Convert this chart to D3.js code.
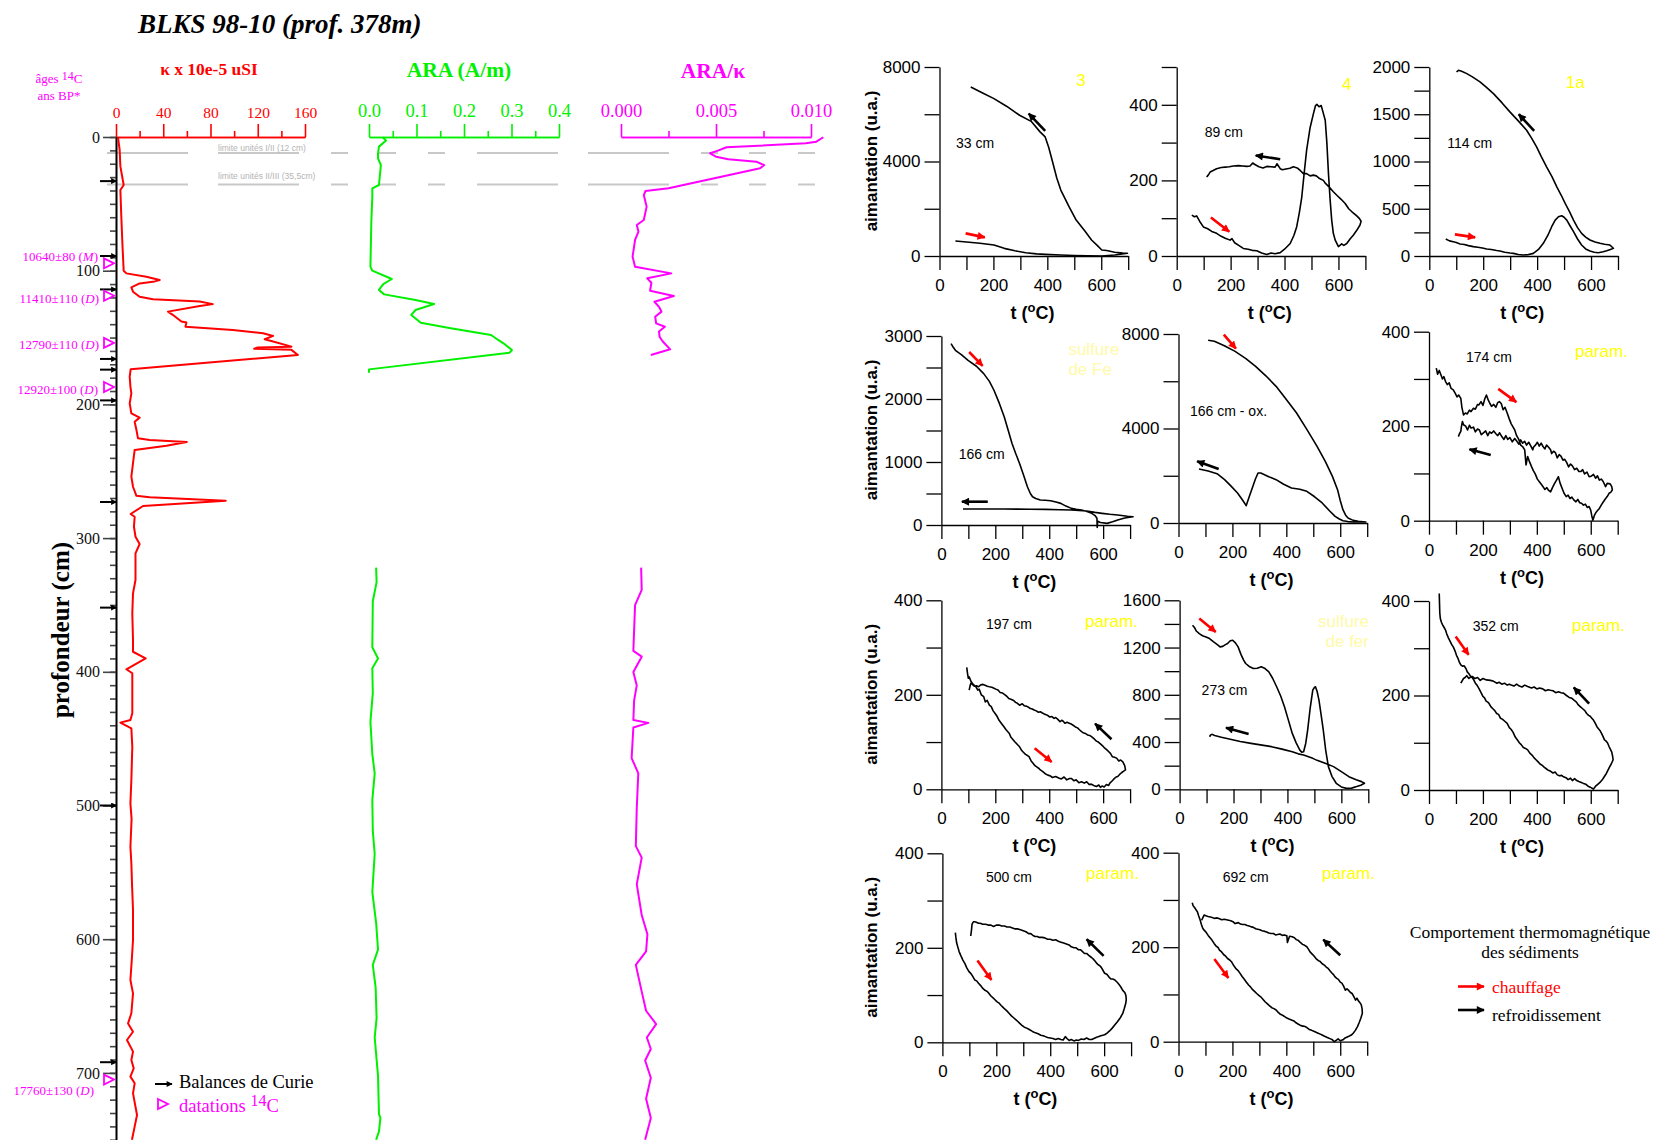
<!DOCTYPE html>
<html><head><meta charset="utf-8">
<script src="https://cdn.jsdelivr.net/npm/d3@7"></script>
<style>body{margin:0;background:#fff}svg{display:block}</style>
</head><body>
<svg id="c" width="1655" height="1140"></svg>
<script>
// ================= DATA =================
// Depth logs: [depth cm, value]; null = no measurement
const kappaProfile = [[0.5,1.7],[9.7,3.1],[22,3.7],[35.9,6.5],[39.6,3.7],[59.6,4.5],[79.5,5.4],[100,6.5],[102,8.8],[104.5,25.7],[107,37],[108,32.8],[109.5,20],[112.5,13],[115.7,14.4],[119.5,20],[121.4,31.3],[123,70.9],[125,82],[126.4,70.9],[130.6,44],[133,48],[138,55.4],[138.8,59.6],[141.9,58.8],[144.4,99],[146.8,124.5],[148.8,133],[151.3,125.9],[153,133],[156.8,148.5],[157.4,120],[158.4,117],[159.2,148.5],[163,154],[173.8,12.4],[179.3,11.6],[186.7,12.2],[191.7,13],[199.2,11.6],[206.7,13],[209.9,20],[213,15.8],[219.1,17.3],[225.4,18.6],[226.6,28.5],[228.1,60],[231,42.7],[234.1,15.8],[244,14.4],[254,13],[261.6,14.4],[268.3,17.2],[269.5,28.5],[272,92.9],[276,22.9],[282,12.4],[284,15.8],[291.5,15.2],[299,16.5],[304.4,20],[311.4,16.5],[331.3,16.5],[341.3,14.4],[356.3,13.8],[376.2,14.4],[385,14.4],[390,25.1],[398.1,8.8],[401.1,13.8],[431,13.8],[436,12.2],[438,3.7],[442.3,13],[456,13.8],[481,13],[498.4,12.2],[510,13.2],[530.8,12.2],[543.2,13],[560,13.6],[578.2,14.4],[600.6,14.4],[615,13.4],[630.5,12.2],[640.5,14.4],[655.4,13],[663,10.2],[669.2,14.4],[675.4,9.3],[684.1,14.4],[690.4,13],[696.6,15],[702.8,12.2],[707.8,15.8],[715.3,14.4],[731.5,17.8],[740.2,15.8],[750,13.5]];

const araProfile = [[0.2,0.029],[2.7,0.036],[7.2,0.021],[12.2,0.019],[16,0.019],[21,0.025],[35.9,0.021],[38.4,0.007],[44.6,0.007],[62,0.005],[97,0.003],[100,0.007],[106.2,0.048],[110,0.03],[114.4,0.021],[117.7,0.032],[121.9,0.098],[124.9,0.137],[129.4,0.098],[133.1,0.089],[138.9,0.109],[143.1,0.172],[148.1,0.257],[151.8,0.272],[154.3,0.283],[159.3,0.301],[161.3,0.296],[173.8,0.0],[176.3,0.0],[250,null],
[322.1,0.015],[332.9,0.016],[347.2,0.008],[381.6,0.007],[390.1,0.019],[397.3,0.007],[415.9,0.008],[437.4,0.003],[461.7,0.007],[476,0.012],[496,0.007],[519,0.008],[536.1,0.012],[564.8,0.007],[587.7,0.015],[607.7,0.019],[619.2,0.008],[636.3,0.014],[659.2,0.016],[673.5,0.012],[702.2,0.019],[730.8,0.021],[733.7,0.024],[743.7,0.021],[750,0.015]];

const ratioProfile = [[0.2,0.01065],[3.5,0.01028],[4.7,0.00973],[7.7,0.00556],[10.2,0.0051],[12.2,0.00469],[14.7,0.005],[16.7,0.00565],[18.5,0.00713],[21,0.00754],[23.4,0.00732],[29.7,0.00528],[38.4,0.0025],[40.4,0.00129],[43.4,0.0012],[52.1,0.00135],[62.1,0.0012],[65.8,0.00083],[70.8,0.00092],[77,0.00074],[89.5,0.00061],[97,0.00074],[102,0.00265],[105.7,0.00138],[109,0.0016],[115,0.00153],[118.9,0.00278],[123.2,0.00176],[127,0.002],[130.6,0.00213],[134.5,0.0018],[139.4,0.00185],[141.9,0.00231],[145.5,0.002],[149.4,0.00203],[153,0.0022],[158.8,0.00259],[163.1,0.00157],[250,null],
[322.1,0.00106],[338.7,0.00109],[350.1,0.00074],[384.4,0.00065],[388.7,0.00109],[400.1,0.00065],[410.2,0.00083],[421.6,0.00069],[436,0.00065],[438.2,0.00144],[441.7,0.00065],[464.5,0.00056],[476,0.00091],[501.8,0.00083],[530.4,0.00078],[539,0.00109],[559,0.00083],[581.9,0.00109],[596.3,0.00139],[609.1,0.00132],[619.2,0.00078],[639.2,0.00109],[653.5,0.00132],[663.5,0.00185],[673.5,0.00136],[682.1,0.00157],[690.7,0.00127],[703.6,0.00157],[719.3,0.00132],[733.7,0.00157],[750,0.00127]];

const kappaTicks = [0,40,80,120,160], kappaMinor = [20,60,100,140];
const araTicks = [0,0.1,0.2,0.3,0.4], araMinor = [0.05,0.15,0.25,0.35];
const ratioTicks = [0,0.005,0.01], ratioMinor = [0.0025,0.0075];
const depthTicks = [0,100,200,300,400,500,600,700];

const unitLimits = [12, 35.5];
const unitLimitLabels = ["limite unités I/II (12 cm)", "limite unités II/III (35,5cm)"];

const curieDepths = [33, 89, 114, 166, 174, 197, 273, 352, 500, 692];
const datingDepths = [94.5, 118.7, 154, 187, 705];
const datingAges = ["10640±80", "11410±110", "12790±110", "12920±100", "17760±130"];
const datingMethods = ["M", "D", "D", "D", "D"];

// Thermomagnetic curves: [t °C, aimantation u.a.] heating then cooling
const curve33 = [[59,634],[100,590],[150,540],[202,465],[240,324],[280,220],[320,140],[360,90],[392,70],[450,40],[500,20],[550,10],[602,0],[650,40],[697,113],[680,120],[650,160],[620,230],[602,253],[585,450],[564,676],[540,1050],[507,1521],[480,2100],[450,2789],[435,3300],[421,3915],[405,4600],[392,5042],[373,5254],[340,5700],[297,5958],[250,6330],[202,6662],[160,6900],[116,7155]];
const curve89 = [[56,108],[66,104],[74,106],[85,92],[99,77],[115,72],[130,65],[148,60],[165,52],[180,47],[198,42],[205,46],[215,35],[230,28],[247,20],[265,18],[280,15],[297,14],[315,8],[334,4],[350,8],[365,6],[384,9],[400,18],[421,33],[435,55],[445,77],[455,115],[464,156],[473,220],[482,280],[495,340],[507,376],[515,398],[520,401],[528,395],[536,398],[543,380],[551,359],[557,300],[563,218],[569,150],[575,95],[581,60],[588,42],[600,25],[612,32],[620,28],[631,33],[643,45],[655,55],[668,68],[680,82],[684,92],[678,99],[668,106],[650,117],[638,125],[625,139],[610,150],[595,160],[581,170],[565,183],[552,192],[544,200],[530,205],[518,212],[507,214],[495,212],[482,218],[470,218],[460,225],[447,233],[433,236],[420,232],[405,230],[392,228],[384,231],[372,244],[365,235],[350,236],[334,237],[320,233],[305,236],[290,242],[282,246],[272,238],[260,237],[245,238],[230,239],[210,238],[195,236],[180,235],[165,234],[148,231],[135,226],[124,222],[117,214],[111,209]];
const curve114 = [[61,180],[75,160],[89,151],[100,142],[114,127],[130,122],[145,110],[163,99],[180,92],[197,85],[213,74],[230,68],[250,58],[262,53],[280,40],[300,32],[312,28],[330,16],[349,11],[365,14],[386,28],[405,70],[423,134],[440,220],[454,310],[467,380],[479,415],[491,426],[500,410],[510,380],[522,320],[535,257],[550,180],[565,116],[580,75],[596,53],[612,40],[627,35],[645,45],[658,56],[672,70],[683,81],[678,95],[670,116],[650,125],[633,134],[615,148],[596,169],[580,200],[565,239],[550,300],[535,380],[520,470],[504,556],[490,640],[473,732],[455,840],[435,944],[415,1055],[398,1155],[380,1245],[361,1331],[330,1430],[299,1525],[270,1620],[238,1718],[210,1790],[188,1842],[160,1895],[139,1930],[120,1955],[108,1965],[101,1947]];
const curve166 = [[36,2879],[44,2820],[52,2773],[75,2700],[99,2614],[130,2520],[157,2403],[178,2280],[195,2139],[215,1930],[233,1717],[248,1500],[262,1294],[276,1130],[290,977],[305,790],[319,607],[330,500],[338,449],[350,420],[367,396],[385,392],[405,386],[425,365],[443,343],[462,300],[482,264],[500,250],[520,238],[540,215],[558,185],[570,150],[577,106],[578,-40],[580,60],[590,40],[615,26],[635,50],[654,79],[680,110],[711,132],[690,140],[654,158],[625,170],[596,185],[570,200],[539,222],[510,230],[482,238],[440,243],[386,248],[330,250],[280,252],[233,254],[180,255],[130,253],[80,254]];
const curve166ox = [[110,7732],[133,7690],[170,7500],[210,7266],[250,6960],[286,6631],[325,6220],[362,5785],[400,5230],[438,4656],[476,3960],[514,3245],[545,2600],[571,1975],[590,1411],[600,950],[610,564],[620,330],[629,212],[648,110],[667,71],[695,42],[670,42],[648,42],[628,60],[610,99],[595,180],[581,282],[560,520],[533,847],[505,1110],[476,1340],[450,1430],[419,1481],[390,1640],[362,1834],[335,1960],[305,2116],[295,2116],[285,1850],[276,1552],[262,1100],[251,734],[240,930],[219,1270],[195,1560],[171,1834],[143,2088],[110,2200],[76,2286]];
const curve174 = [[27,323],[32,310],[38,318],[42,312],[50,300],[55,305],[61,295],[68,288],[75,292],[82,280],[90,277],[97,270],[104,262],[110,266],[118,259],[122,240],[128,224],[135,228],[142,226],[150,234],[156,231],[165,238],[172,236],[180,246],[185,245],[193,252],[200,244],[207,258],[213,266],[220,255],[226,248],[232,242],[240,246],[248,240],[255,250],[261,252],[268,248],[275,235],[282,240],[290,228],[298,215],[305,205],[312,198],[318,192],[325,180],[333,172],[340,160],[347,157],[355,150],[360,118],[366,136],[372,126],[380,115],[387,106],[394,99],[402,88],[410,82],[418,76],[423,72],[430,66],[437,70],[444,64],[451,61],[458,70],[465,78],[472,85],[480,93],[486,80],[494,68],[501,58],[509,51],[516,54],[523,47],[530,50],[537,44],[545,40],[552,45],[559,38],[566,37],[573,33],[580,35],[587,28],[594,30],[600,22],[604,10],[608,1],[614,12],[620,18],[626,22],[632,26],[640,34],[647,40],[654,46],[661,51],[668,58],[674,60],[680,65],[678,72],[672,78],[661,79],[655,72],[646,83],[639,88],[632,86],[625,95],[618,90],[610,98],[601,94],[594,93],[586,103],[577,99],[570,108],[563,104],[556,104],[548,111],[540,108],[532,116],[525,120],[518,114],[510,124],[503,130],[497,128],[490,136],[483,140],[476,133],[469,144],[462,147],[455,142],[451,150],[443,156],[436,160],[430,152],[423,157],[416,164],[409,158],[402,166],[395,160],[388,156],[385,150],[378,158],[370,166],[362,160],[355,168],[347,164],[340,171],[333,162],[326,168],[318,174],[309,167],[300,176],[292,172],[285,180],[278,172],[270,178],[262,186],[255,180],[248,184],[240,190],[232,185],[225,188],[218,180],[210,190],[202,186],[194,182],[187,192],[180,194],[172,188],[165,198],[156,196],[150,202],[143,192],[136,200],[128,203],[124,210],[120,198],[118,189],[113,184],[109,178]];
const curve197 = [[94,258],[97,245],[100,235],[103,238],[110,228],[118,222],[128,217],[135,210],[140,212],[148,200],[157,196],[163,185],[170,188],[178,178],[185,175],[192,166],[200,160],[207,154],[214,146],[222,140],[230,134],[240,126],[252,118],[258,110],[266,105],[273,100],[280,96],[290,90],[298,82],[305,78],[312,74],[318,72],[325,69],[333,60],[340,55],[347,50],[355,47],[362,44],[367,41],[375,38],[385,33],[395,30],[405,28],[412,25],[424,27],[435,24],[445,22],[455,26],[465,20],[475,23],[482,23],[492,18],[500,20],[510,14],[520,16],[530,13],[539,16],[548,10],[556,11],[565,8],[575,6],[584,9],[590,4],[596,7],[604,5],[612,10],[620,8],[625,13],[634,18],[640,22],[648,26],[654,27],[662,32],[668,35],[675,38],[683,41],[680,50],[673,58],[665,62],[658,60],[650,66],[642,68],[634,69],[627,76],[620,80],[613,84],[606,87],[598,92],[590,96],[582,100],[575,102],[568,106],[558,111],[550,114],[542,115],[535,118],[528,119],[520,122],[512,126],[505,130],[497,132],[490,135],[482,138],[474,140],[466,142],[458,140],[452,144],[446,146],[440,143],[432,148],[424,152],[418,150],[410,154],[402,153],[395,156],[388,158],[380,160],[373,162],[367,164],[360,163],[352,166],[344,168],[337,170],[330,171],[322,174],[315,176],[307,177],[300,181],[290,178],[282,182],[275,184],[268,188],[260,190],[250,192],[244,196],[236,200],[226,204],[218,205],[210,210],[202,212],[195,214],[187,216],[178,217],[170,218],[162,220],[154,222],[146,221],[138,217],[130,219],[122,218],[115,222],[109,224],[106,218],[103,210]];
const curve273 = [[48,1389],[55,1370],[62,1340],[73,1318],[85,1300],[98,1290],[111,1276],[125,1250],[140,1225],[150,1206],[160,1210],[170,1225],[178,1234],[188,1258],[197,1262],[207,1240],[217,1206],[228,1140],[237,1095],[245,1065],[258,1040],[274,1023],[288,1025],[303,1037],[315,1025],[331,994],[345,940],[360,868],[375,790],[389,699],[403,590],[418,473],[432,395],[446,332],[453,315],[460,318],[468,390],[475,501],[484,680],[494,839],[500,862],[504,868],[510,830],[517,755],[525,630],[533,501],[542,330],[552,192],[565,110],[581,51],[600,20],[619,8],[638,10],[657,23],[672,35],[686,51],[675,65],[655,80],[628,107],[600,150],[571,192],[540,220],[510,245],[494,262],[460,290],[440,300],[418,318],[380,340],[341,361],[300,376],[265,389],[225,405],[188,423],[155,440],[130,455],[121,465],[115,460],[111,445]];
const curve352 = [[38,416],[39,395],[40,375],[42,363],[46,355],[50,350],[55,345],[61,339],[66,330],[72,322],[78,315],[84,308],[90,303],[96,295],[102,285],[108,278],[113,270],[118,265],[124,262],[130,263],[137,257],[142,250],[148,246],[155,240],[160,238],[166,233],[172,226],[178,222],[185,215],[194,205],[200,198],[206,195],[212,188],[218,186],[223,183],[230,176],[237,172],[244,168],[251,162],[258,160],[265,152],[272,150],[280,146],[290,141],[298,132],[305,128],[312,122],[320,112],[328,106],[335,100],[342,96],[350,90],[358,88],[366,85],[374,78],[382,74],[390,68],[397,64],[404,60],[412,55],[420,52],[428,48],[435,45],[442,42],[450,40],[460,36],[468,38],[476,32],[484,30],[492,31],[499,28],[508,26],[516,22],[525,25],[532,20],[540,24],[548,20],[556,18],[565,16],[573,14],[582,12],[590,8],[598,6],[604,4],[610,2],[618,8],[626,12],[634,16],[642,21],[650,28],[658,35],[664,42],[670,49],[676,55],[683,64],[681,72],[678,80],[674,85],[668,92],[662,100],[656,104],[651,106],[645,114],[640,120],[634,126],[628,130],[623,134],[616,142],[610,148],[604,152],[598,156],[592,158],[585,162],[578,168],[570,172],[562,176],[554,180],[547,186],[538,190],[530,194],[520,196],[510,200],[499,205],[490,206],[480,208],[470,206],[460,210],[450,211],[442,212],[432,210],[422,214],[410,216],[400,214],[390,218],[380,216],[366,219],[355,222],[345,218],[335,220],[325,224],[315,220],[305,222],[298,224],[290,222],[280,226],[270,224],[260,228],[252,226],[240,230],[228,232],[213,233],[200,236],[190,232],[180,238],[170,236],[162,240],[156,240],[148,236],[140,242],[134,238],[128,236],[124,232],[120,228],[118,226]];
const curve500 = [[48,232],[50,222],[53,210],[57,202],[62,192],[68,184],[76,174],[84,166],[90,158],[98,150],[105,146],[112,140],[120,132],[127,130],[134,125],[142,120],[150,114],[158,110],[165,108],[172,104],[180,98],[188,94],[195,90],[202,86],[210,83],[218,78],[225,74],[232,70],[240,66],[248,61],[256,56],[264,52],[272,48],[280,44],[287,40],[295,36],[304,32],[313,30],[322,27],[334,23],[345,20],[355,18],[365,15],[374,14],[382,12],[390,10],[400,9],[410,8],[420,6],[430,8],[439,6],[448,5],[456,12],[462,8],[470,4],[478,6],[488,3],[497,5],[505,4],[515,7],[525,6],[535,9],[545,6],[554,6],[562,8],[570,10],[578,12],[588,14],[602,16],[612,20],[620,24],[630,30],[640,37],[650,44],[660,52],[669,61],[675,72],[680,82],[682,90],[681,98],[678,104],[674,107],[669,110],[663,116],[656,122],[650,126],[640,132],[632,134],[625,134],[618,138],[610,144],[602,146],[596,152],[590,158],[584,162],[578,164],[573,167],[566,172],[560,176],[552,180],[543,184],[535,188],[527,188],[520,192],[512,196],[504,196],[496,200],[488,200],[478,202],[470,206],[460,208],[450,210],[440,212],[430,214],[420,217],[410,216],[400,218],[390,218],[380,221],[370,222],[360,222],[352,224],[344,224],[336,226],[328,230],[320,230],[310,234],[300,236],[290,238],[280,240],[270,240],[260,242],[250,244],[240,244],[230,246],[220,246],[210,248],[200,248],[190,245],[180,248],[170,248],[160,250],[150,250],[140,252],[134,252],[126,254],[120,255],[115,255],[110,250],[108,238],[105,225]];
const curve692 = [[51,294],[54,288],[58,285],[62,282],[66,278],[70,275],[75,266],[80,258],[85,248],[90,240],[95,236],[102,232],[110,225],[117,220],[124,215],[132,208],[140,202],[146,200],[152,194],[160,190],[168,184],[175,181],[182,176],[190,173],[198,168],[206,160],[214,154],[222,150],[229,144],[236,138],[244,132],[252,126],[260,120],[267,116],[275,110],[283,106],[290,102],[298,98],[305,95],[313,90],[322,84],[330,80],[338,76],[346,72],[354,70],[362,67],[370,62],[378,58],[386,56],[394,53],[402,50],[410,48],[419,46],[428,44],[436,40],[445,37],[454,34],[462,33],[470,32],[476,30],[485,26],[494,24],[502,22],[510,20],[518,18],[526,16],[533,14],[540,12],[548,10],[556,8],[564,6],[571,4],[578,0],[585,3],[592,6],[600,2],[610,4],[618,8],[626,10],[634,12],[641,14],[648,18],[656,24],[664,32],[670,40],[676,49],[682,60],[681,70],[678,78],[674,82],[668,86],[662,92],[657,88],[650,96],[644,102],[638,104],[632,108],[625,112],[619,109],[612,118],[606,124],[600,126],[593,132],[587,134],[581,137],[575,142],[568,146],[562,150],[555,155],[548,158],[541,162],[533,165],[525,170],[518,172],[510,176],[502,182],[495,186],[488,190],[482,196],[476,201],[468,204],[460,206],[452,210],[445,214],[437,216],[430,220],[422,222],[412,223],[404,210],[402,224],[392,226],[385,225],[376,228],[368,227],[360,226],[352,229],[343,229],[335,230],[327,232],[318,234],[310,235],[302,237],[294,238],[286,239],[278,242],[270,243],[262,245],[255,246],[246,248],[238,248],[230,249],[222,252],[210,250],[202,254],[194,256],[186,257],[178,258],[170,259],[160,258],[152,260],[144,262],[133,261],[125,263],[118,264],[110,265],[104,266],[95,268],[90,262],[86,257]];

const panelCurves = [curve33, curve89, curve114, curve166, curve166ox, curve174, curve197, curve273, curve352, curve500, curve692];
const panelSamples = ["33 cm","89 cm","114 cm","166 cm","166 cm - ox.","174 cm","197 cm","273 cm","352 cm","500 cm","692 cm"];
const panelTags = [["3"],["4"],["1a"],["sulfure","de Fe"],[],["param."],["param."],["sulfure","de fer"],["param."],["param."],["param."]];
const panelYMax = [8000,500,2000,3000,8000,400,400,1600,400,400,400];
const panelYStep = [2000,100,250,500,2000,100,100,200,100,100,100];
const panelYLabelStep = [4000,200,500,1000,4000,200,200,400,200,200,200];
// arrows: [kind, t1, M1, t2, M2]
const panelArrows = [
  [["heat",97,958,168,789],["cool",392,5296,331,6028]],
  [["heat",127,102,195,64],["cool",384,256,293,266]],
  [["heat",95,229,170,197],["cool",389,1324,332,1500]],
  [["heat",103,2746,153,2525],["cool",172,370,76,370]],
  [["heat",168,7972,213,7379],["cool",149,2286,69,2610]],
  [["heat",257,279,324,251],["cool",229,139,150,151]],
  [["heat",346,87,409,58],["cool",631,106,570,139]],
  [["heat",73,1445,134,1332],["cool",256,468,172,521]],
  [["heat",99,325,147,286],["cool",594,183,537,217]],
  [["heat",130,173,182,132],["cool",598,183,535,218]],
  [["heat",133,175,185,135],["cool",600,183,537,216]]
];
const tempTicks = [0,100,200,300,400,500,600,700];

// ================= LAYOUT =================
const SERIF = "'Liberation Serif','Times New Roman',serif";
const SANS = "'Liberation Sans',Arial,sans-serif";
const RED = "#ff0000", GREEN = "#00f000", MAG = "#ff00ff";
const panelOrigin = [[939.5,256],[1176.7,256],[1429.3,256],[941.4,525],[1178.5,523],[1429,520.7],[941.4,789.3],[1179.6,789.3],[1429,790],[942.4,1042.3],[1178.5,1041.7]];
const sampleOffset = [[16.5,-113],[28,-124],[18,-113],[17.4,-71],[11.5,-112],[37,-164],[44.6,-165],[22,-99],[43.7,-164.3],[43.6,-165],[44.2,-165]];
const tagOffset = [[141.5,-176,"middle"],[170,-172,"middle"],[146,-174,"middle"],[127,-176,"start"],[0,0,"start"],[146,-170,"start"],[143.6,-168.6,"start"],[189.4,-168.6,"end"],[143,-165,"start"],[143.6,-169,"start"],[143.5,-169,"start"]];
const limitLabelY = [151, 179];
const datingLabelDy = [-7,3,2,2,11];
const datingLabelX = [98,99,99,98,94];
const PW = 188.7, PH = 189;

const svg = d3.select("#c");
const defs = svg.append("defs");
function marker(id, color, w, h){
  defs.append("marker").attr("id",id).attr("viewBox","0 0 10 10").attr("refX",9).attr("refY",5)
    .attr("markerWidth",w).attr("markerHeight",h).attr("markerUnits","userSpaceOnUse").attr("orient","auto")
    .append("path").attr("d","M0,0L10,5L0,10Z").attr("fill",color);
}
marker("hR", RED, 9, 8); marker("hK", "#000", 9, 8); marker("hS", "#000", 7, 6);

// ---- title
svg.append("text").attr("x",138).attr("y",33).attr("font-family",SERIF).attr("font-size",27)
  .attr("font-weight","bold").attr("font-style","italic").text("BLKS 98-10 (prof. 378m)");

// ---- scales for depth logs
const yD = d3.scaleLinear().domain([0,750]).range([137,1139.75]);
const xK = d3.scaleLinear().domain([0,160]).range([116,305]);
const xA = d3.scaleLinear().domain([0,0.4]).range([369,559]);
const xR = d3.scaleLinear().domain([0,0.01]).range([621,811]);

// unit limit dashed lines
unitLimits.forEach((d,i)=>{
  svg.append("line").attr("x1",107).attr("x2",818).attr("y1",yD(d)).attr("y2",yD(d))
    .attr("stroke","#c8c8c8").attr("stroke-width",2).attr("stroke-dasharray","81,30,81,32,17,31,17,32,17,32");
  svg.append("text").attr("x",218).attr("y",limitLabelY[i]).attr("font-family",SANS).attr("font-size",8.5)
    .attr("fill","#b4b4b4").text(unitLimitLabels[i]);
});

function topAxis(scale, majors, minors, fmt, color, fs, pad){
  const g1 = svg.append("g").attr("transform","translate(0,137)")
    .call(d3.axisTop(scale).tickValues(minors).tickSize(6).tickSizeOuter(0).tickFormat(""));
  const g2 = svg.append("g").attr("transform","translate(0,137)")
    .call(d3.axisTop(scale).tickValues(majors).tickSize(13).tickSizeOuter(0).tickPadding(pad).tickFormat(fmt));
  [g1,g2].forEach(g=>{
    g.selectAll("path,line").attr("stroke",color).attr("stroke-width",1.6);
    g.selectAll("text").attr("fill",color).attr("font-family",SERIF).attr("font-size",fs);
  });
}
topAxis(xK, kappaTicks, kappaMinor, d3.format("d"), RED, 15.5, 6);
topAxis(xA, araTicks, araMinor, d3.format(".1f"), GREEN, 18.5, 7);
topAxis(xR, ratioTicks, ratioMinor, d3.format(".3f"), MAG, 18.5, 7);

svg.append("text").attr("x",209).attr("y",75).attr("text-anchor","middle").attr("font-family",SERIF)
  .attr("font-size",17.5).attr("font-weight","bold").attr("fill",RED).text("κ x 10e-5 uSI");
svg.append("text").attr("x",459).attr("y",77).attr("text-anchor","middle").attr("font-family",SERIF)
  .attr("font-size",21.5).attr("font-weight","bold").attr("fill",GREEN).text("ARA (A/m)");
svg.append("text").attr("x",713).attr("y",78).attr("text-anchor","middle").attr("font-family",SERIF)
  .attr("font-size",21.5).attr("font-weight","bold").attr("fill",MAG).text("ARA/κ");

const ag = svg.append("text").attr("x",59).attr("y",83).attr("text-anchor","middle").attr("font-family",SERIF)
  .attr("font-size",13).attr("fill",MAG);
ag.append("tspan").text("âges ");
ag.append("tspan").attr("dy",-3).attr("font-size",12).text("14");
ag.append("tspan").attr("dy",3).text("C");
svg.append("text").attr("x",59).attr("y",100).attr("text-anchor","middle").attr("font-family",SERIF)
  .attr("font-size",13).attr("fill",MAG).text("ans BP*");

// depth axis
const gdm = svg.append("g").attr("transform","translate(116,0)")
  .call(d3.axisLeft(yD).tickValues(d3.range(0,751,10)).tickSize(6).tickSizeOuter(0).tickFormat(""));
const gdM = svg.append("g").attr("transform","translate(116,0)")
  .call(d3.axisLeft(yD).tickValues(depthTicks).tickSize(13).tickSizeOuter(0).tickPadding(3).tickFormat(d3.format("d")));
[gdm,gdM].forEach(g=>{
  g.selectAll("line").attr("stroke","#444").attr("stroke-width",1.6);
  g.select(".domain").attr("stroke","#000").attr("stroke-width",1.6);
  g.selectAll("text").attr("font-family",SERIF).attr("font-size",16).attr("fill","#111");
});
svg.append("text").attr("transform","translate(69,630) rotate(-90)").attr("text-anchor","middle")
  .attr("font-family",SERIF).attr("font-size",25).attr("font-weight","bold").text("profondeur (cm)");

// curves
const mk = (xs)=> d3.line().defined(d=>d[1]!=null).x(d=>xs(d[1])).y(d=>yD(d[0]));
svg.append("path").datum(kappaProfile).attr("d",mk(xK)).attr("fill","none").attr("stroke",RED).attr("stroke-width",2).attr("stroke-linejoin","round");
svg.append("path").datum(araProfile).attr("d",mk(xA)).attr("fill","none").attr("stroke",GREEN).attr("stroke-width",2).attr("stroke-linejoin","round");
svg.append("path").datum(ratioProfile).attr("d",mk(xR)).attr("fill","none").attr("stroke",MAG).attr("stroke-width",2).attr("stroke-linejoin","round");

// Curie arrows on depth axis
curieDepths.forEach(d=>{
  svg.append("line").attr("x1",100).attr("x2",116.5).attr("y1",yD(d)).attr("y2",yD(d))
    .attr("stroke","#000").attr("stroke-width",2).attr("marker-end","url(#hS)");
});
// datings
const tri = (cx,cy)=>`M${cx-5},${cy-5}L${cx+5},${cy}L${cx-5},${cy+5}Z`;
datingDepths.forEach((d,i)=>{
  svg.append("path").attr("d",tri(109,yD(d))).attr("fill","#fff").attr("stroke",MAG).attr("stroke-width",1.8);
  const t = svg.append("text").attr("x",datingLabelX[i]).attr("y",yD(d)+datingLabelDy[i]+4.5).attr("text-anchor","end")
    .attr("font-family",SERIF).attr("font-size",13).attr("fill",MAG);
  t.append("tspan").text(datingAges[i]+" (");
  t.append("tspan").attr("font-style","italic").text(datingMethods[i]);
  t.append("tspan").text(")");
});
// left legend
svg.append("line").attr("x1",155).attr("x2",172).attr("y1",1084).attr("y2",1084).attr("stroke","#000").attr("stroke-width",2).attr("marker-end","url(#hS)");
svg.append("text").attr("x",179).attr("y",1088).attr("font-family",SERIF).attr("font-size",18.5).text("Balances de Curie");
svg.append("path").attr("d",tri(163,1104)).attr("fill","#fff").attr("stroke",MAG).attr("stroke-width",1.8);
const dl = svg.append("text").attr("x",179).attr("y",1112).attr("font-family",SERIF).attr("font-size",18.5).attr("fill",MAG);
dl.append("tspan").text("datations ");
dl.append("tspan").attr("dy",-6).attr("font-size",16).text("14");
dl.append("tspan").attr("dy",6).text("C");

// ================= PANELS =================
panelCurves.forEach((curve,i)=>{
  const [ox,oy] = panelOrigin[i];
  const x = d3.scaleLinear().domain([0,700]).range([ox,ox+PW]);
  const y = d3.scaleLinear().domain([0,panelYMax[i]]).range([oy,oy-PH]);
  const gx = svg.append("g").attr("transform",`translate(0,${oy})`)
    .call(d3.axisBottom(x).tickValues(tempTicks).tickSize(14).tickSizeOuter(0).tickPadding(9)
      .tickFormat(v => (v%200===0 && v<700) ? v : ""));
  const gy = svg.append("g").attr("transform",`translate(${ox},0)`)
    .call(d3.axisLeft(y).tickValues(d3.range(0,panelYMax[i]+1,panelYStep[i])).tickSize(15).tickSizeOuter(0).tickPadding(4)
      .tickFormat(v => v%panelYLabelStep[i]===0 ? v : ""));
  [gx,gy].forEach(g=>{
    g.selectAll("path,line").attr("stroke","#000").attr("stroke-width",1.3);
    g.selectAll("text").attr("font-family",SANS).attr("font-size",17).attr("fill","#000");
  });
  svg.append("path").datum(curve).attr("d",d3.line().x(d=>x(d[0])).y(d=>y(d[1])))
    .attr("fill","none").attr("stroke","#000").attr("stroke-width",1.6).attr("stroke-linejoin","round");
  panelArrows[i].forEach(a=>{
    const heat = a[0]==="heat";
    svg.append("line").attr("x1",x(a[1])).attr("y1",y(a[2])).attr("x2",x(a[3])).attr("y2",y(a[4]))
      .attr("stroke",heat?RED:"#000").attr("stroke-width",2.6).attr("marker-end",heat?"url(#hR)":"url(#hK)");
  });
  svg.append("text").attr("x",ox+sampleOffset[i][0]).attr("y",oy+sampleOffset[i][1]+5)
    .attr("font-family",SANS).attr("font-size",14).attr("fill","#000").text(panelSamples[i]);
  const tg = panelTags[i];
  tg.forEach((s,k)=>{
    const pale = tg[0]==="sulfure";
    svg.append("text").attr("x",ox+tagOffset[i][0]).attr("y",oy+tagOffset[i][1]+6+k*20)
      .attr("text-anchor",tagOffset[i][2]).attr("font-family",SANS).attr("font-size",17)
      .attr("fill",pale?"#fffaa8":"#ffff00").text(s);
  });
  const xt = svg.append("text").attr("x",ox+93).attr("y",oy+63).attr("text-anchor","middle")
    .attr("font-family",SANS).attr("font-size",18).attr("font-weight","bold");
  xt.append("tspan").text("t (");
  xt.append("tspan").attr("dy",-7).attr("font-size",13).text("o");
  xt.append("tspan").attr("dy",7).text("C)");
  if (i===0||i===3||i===6||i===9){
    svg.append("text").attr("transform",`translate(876.5,${oy-95}) rotate(-90)`).attr("text-anchor","middle")
      .attr("font-family",SANS).attr("font-size",17).attr("font-weight","bold").text("aimantation (u.a.)");
  }
});

// right legend
svg.append("text").attr("x",1530).attr("y",938).attr("text-anchor","middle").attr("font-family",SERIF).attr("font-size",17.5).text("Comportement thermomagnétique");
svg.append("text").attr("x",1530).attr("y",958).attr("text-anchor","middle").attr("font-family",SERIF).attr("font-size",17.5).text("des sédiments");
svg.append("line").attr("x1",1458).attr("x2",1484).attr("y1",986.5).attr("y2",986.5).attr("stroke",RED).attr("stroke-width",2.6).attr("marker-end","url(#hR)");
svg.append("line").attr("x1",1458).attr("x2",1484).attr("y1",1010).attr("y2",1010).attr("stroke","#000").attr("stroke-width",2.6).attr("marker-end","url(#hK)");
svg.append("text").attr("x",1492).attr("y",993).attr("font-family",SERIF).attr("font-size",17.5).attr("fill",RED).text("chauffage");
svg.append("text").attr("x",1492).attr("y",1021).attr("font-family",SERIF).attr("font-size",17.5).attr("fill","#000").text("refroidissement");
</script>
</body></html>
